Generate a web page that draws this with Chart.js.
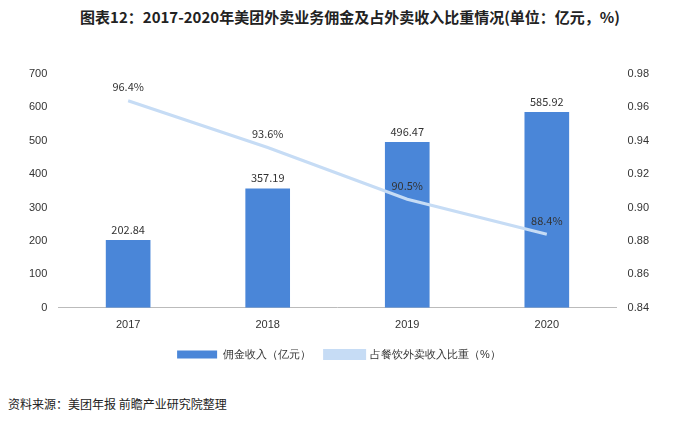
<!DOCTYPE html><html><head><meta charset="utf-8">
<script src="https://cdn.jsdelivr.net/npm/chart.js@4"></script>
<style>body{margin:0;background:#fff;width:700px;height:424px;overflow:hidden;font-family:"Noto Sans CJK SC",sans-serif}
#t{position:absolute;left:0;top:6px;width:700px;text-align:center;font-weight:bold;font-size:15px;color:#222}
#s{position:absolute;left:8px;top:395px;font-size:12px;color:#222}
#w{position:absolute;left:0;top:58px;width:652px;height:312px}</style></head><body>
<div id="t">图表12：2017-2020年美团外卖业务佣金及占外卖收入比重情况(单位：亿元，%)</div>
<div id="w"><canvas id="c"></canvas></div>
<div id="s">资料来源：美团年报 前瞻产业研究院整理</div>
<script>
const categories=["2017","2018","2019","2020"];
const commission=[202.84,357.19,496.47,585.92];
const share=[0.964,0.936,0.905,0.884];
const shareLabels=["96.4%","93.6%","90.5%","88.4%"];
const labelPlugin={id:"lbl",afterDatasetsDraw(ch){const x=ch.ctx;x.save();x.font="11px 'Noto Sans CJK SC',sans-serif";x.fillStyle="#333";x.textAlign="center";x.textBaseline="bottom";
ch.getDatasetMeta(0).data.forEach((b,i)=>x.fillText(commission[i].toFixed(2),b.x,b.y-5));
ch.getDatasetMeta(1).data.forEach((p,i)=>x.fillText(shareLabels[i],p.x,p.y-8));x.restore();}};
new Chart(document.getElementById("c"),{data:{labels:categories,datasets:[
{type:"bar",label:"佣金收入（亿元）",data:commission,backgroundColor:"#4a86d8",barPercentage:0.32,categoryPercentage:1,yAxisID:"y",order:2},
{type:"line",label:"占餐饮外卖收入比重（%）",data:share,borderColor:"#c6dcf5",backgroundColor:"#c6dcf5",borderWidth:3,pointRadius:0,yAxisID:"y1",order:1}]},
options:{responsive:true,maintainAspectRatio:false,animation:false,layout:{padding:{left:26,right:0,top:16}},
plugins:{legend:{position:"bottom",labels:{boxWidth:40,boxHeight:8,font:{size:11},color:"#333",padding:14,sort:(a,b)=>a.datasetIndex-b.datasetIndex}},tooltip:{enabled:false}},
scales:{x:{grid:{display:false},border:{color:"#bbb"},ticks:{color:"#333",font:{size:11}}},
y:{min:0,max:700,ticks:{stepSize:100,color:"#333",font:{size:11}},grid:{display:false},border:{display:false}},
y1:{position:"right",min:0.84,max:0.98,ticks:{stepSize:0.02,color:"#333",font:{size:11},callback:v=>v.toFixed(2)},grid:{display:false},border:{display:false}}}},
plugins:[labelPlugin]});
</script></body></html>
